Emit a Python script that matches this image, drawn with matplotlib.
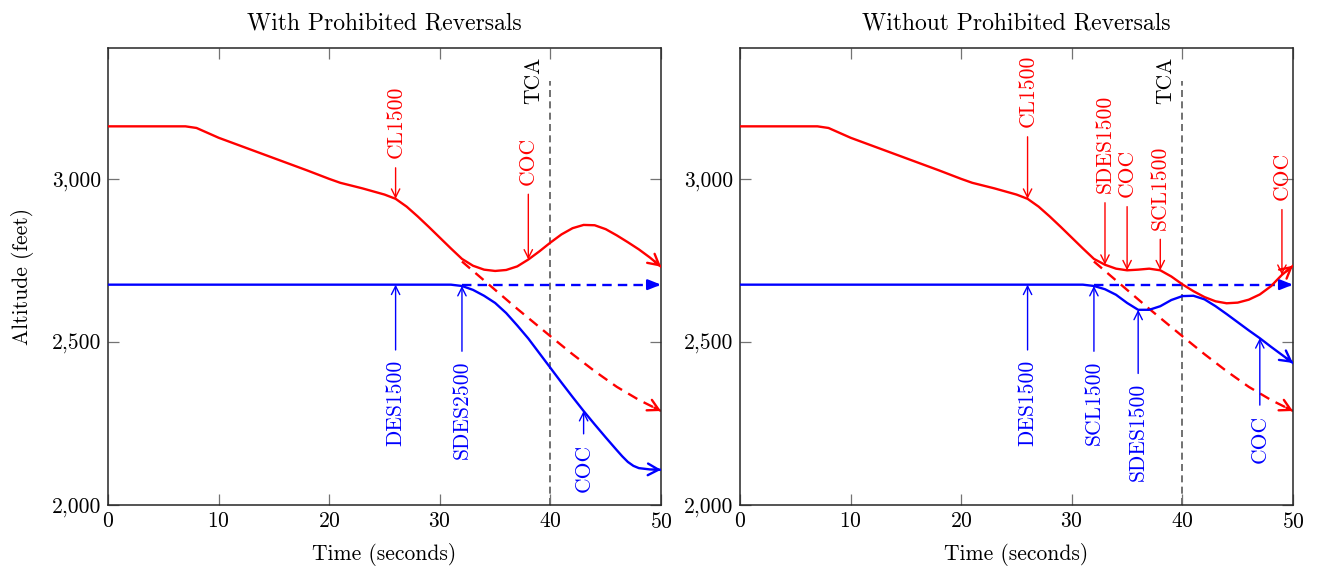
import numpy as np
import matplotlib
matplotlib.use("Agg")
import matplotlib.pyplot as plt
from matplotlib.ticker import FuncFormatter

plt.rcParams['font.family'] = ['cmr10', 'DejaVu Serif']
plt.rcParams['font.size'] = 15.5
plt.rcParams['axes.formatter.use_mathtext'] = True

# own aircraft (red), common part up to the first advisory branch
t_own_common = [0, 7, 8, 9, 10, 12, 14, 16, 18, 20, 21, 23, 25, 26, 27, 28, 29, 30, 31, 32]
a_own_common = [3160, 3160, 3155, 3140, 3125, 3100, 3075, 3050, 3025, 2999, 2987, 2970,
                2951, 2938, 2914, 2884, 2852, 2819, 2786, 2754]

# left panel: with prohibited reversals
t_own_left = [33, 34, 35, 36, 37, 38, 39, 40, 41, 42, 43, 44, 45, 46, 47, 48, 49, 50]
a_own_left = [2733, 2721, 2717, 2720, 2731, 2752, 2777, 2804, 2829, 2848, 2858, 2857,
              2845, 2826, 2805, 2783, 2758, 2730]

t_int_left = [0, 31, 32, 33, 34, 35, 36, 37, 38, 39, 40, 41, 42, 43, 44, 45, 46, 46.5,
              47, 47.5, 48, 49, 50]
a_int_left = [2675, 2675, 2671, 2659, 2641, 2619, 2588, 2550, 2510, 2465, 2420, 2375,
              2331, 2288, 2247, 2207, 2168, 2149, 2132, 2120, 2113, 2109, 2108]

# right panel: without prohibited reversals
t_own_right = [33, 34, 35, 36, 37, 38, 39, 40, 41, 42, 43, 44, 45, 46, 47, 48, 49, 50]
a_own_right = [2736, 2724, 2719, 2721, 2724, 2719, 2700, 2676, 2655, 2637, 2624, 2618,
               2620, 2629, 2645, 2670, 2705, 2733]

t_int_right = [0, 31, 32, 33, 34, 35, 36, 37, 38, 39, 40, 41, 42, 43, 44, 45, 46, 47,
               48, 49, 50]
a_int_right = [2675, 2675, 2671, 2661, 2644, 2619, 2598, 2598, 2609, 2628, 2640, 2641,
               2630, 2609, 2585, 2560, 2535, 2511, 2485, 2460, 2435]

# original (unresolved) trajectories, dashed
t_own_orig = [32, 33, 34, 35, 36, 37, 38, 40, 42, 44, 46, 48, 50]
a_own_orig = [2746, 2717, 2688, 2659, 2630, 2601, 2573, 2517, 2462, 2410, 2362, 2322, 2288]
t_int_orig = [32, 50]
a_int_orig = [2675, 2675]

tca_time = 40
tca_top = 3300

# advisories: label, time, offset of arrow tail (ft)
left_own_adv = [("CL1500", 26, 95), ("COC", 38, 200)]
left_int_adv = [("DES1500", 26, 200), ("SDES2500", 32, 200), ("COC", 43, 70)]
right_own_adv = [("CL1500", 26, 190), ("SDES1500", 33, 190), ("COC", 35, 195),
                 ("SCL1500", 38, 95), ("COC", 49, 200)]
right_int_adv = [("DES1500", 26, 200), ("SCL1500", 32, 200), ("SDES1500", 36, 195),
                 ("COC", 47, 205)]

RED = (1, 0, 0)
BLUE = (0, 0, 1)


def end_arrow(ax, t, a, color, filled=False):
    t1 = t[-1]
    t0 = t1 - 0.6
    a0 = np.interp(t0, t, a)
    if filled:
        style = '-|>,head_length=0.55,head_width=0.22'
    else:
        style = '->,head_length=0.55,head_width=0.3'
    ax.annotate('', xy=(t1, a[-1]), xytext=(t0, a0),
                arrowprops=dict(arrowstyle=style, color=color, lw=1.7,
                                shrinkA=0, shrinkB=0, mutation_scale=14),
                annotation_clip=False, zorder=4)


def advisories(ax, adv, t, a, color, above):
    for label, tt, off in adv:
        tip = np.interp(tt, t, a)
        tail = tip + off if above else tip - off
        ax.annotate('', xy=(tt, tip), xytext=(tt, tail),
                    arrowprops=dict(arrowstyle='->,head_length=0.6,head_width=0.3',
                                    color=color, lw=1.0, shrinkA=0, shrinkB=0,
                                    mutation_scale=10), zorder=5)
        if above:
            ax.annotate(label, xy=(tt, tail), xytext=(0, 7), textcoords='offset points',
                        rotation=90, ha='center', va='bottom', color=color)
        else:
            ax.annotate(label, xy=(tt, tail), xytext=(0, -7), textcoords='offset points',
                        rotation=90, ha='center', va='top', color=color)


def panel(ax, title, t_own, a_own, t_int, a_int, own_adv, int_adv):
    own_t = t_own_common + t_own
    own_a = a_own_common + a_own
    ax.plot(t_own_orig, a_own_orig, color=RED, lw=1.7, dashes=(4.5, 3.0), zorder=2)
    ax.plot(t_int_orig, a_int_orig, color=BLUE, lw=1.7, dashes=(4.0, 2.6), zorder=2)
    ax.plot(own_t, own_a, color=RED, lw=1.7, zorder=3)
    ax.plot(t_int, a_int, color=BLUE, lw=1.7, zorder=3)
    end_arrow(ax, t_own_orig, a_own_orig, RED)
    end_arrow(ax, t_int_orig, a_int_orig, BLUE, filled=True)
    end_arrow(ax, own_t, own_a, RED)
    end_arrow(ax, t_int, a_int, BLUE)

    ax.plot([tca_time, tca_time], [2000, tca_top], color='0.35', lw=1.2,
            dashes=(4.2, 2.6), zorder=1)
    ax.annotate('TCA', xy=(tca_time, tca_top), xytext=(-5, 0), textcoords='offset points',
                rotation=90, ha='right', va='center', color='black')

    advisories(ax, own_adv, own_t, own_a, RED, True)
    advisories(ax, int_adv, t_int, a_int, BLUE, False)

    ax.set_xlim(0, 50)
    ax.set_ylim(2000, 3400)
    ax.set_xticks([0, 10, 20, 30, 40, 50])
    ax.set_yticks([2000, 2500, 3000])
    ax.yaxis.set_major_formatter(FuncFormatter(lambda v, p: f"{v:,.0f}"))
    ax.tick_params(direction='in', top=True, right=True, length=8, width=0.9,
                   color='0.45', pad=5)
    for s in ax.spines.values():
        s.set_linewidth(1.1)
        s.set_color('0.15')
    ax.set_title(title, pad=13, fontsize=17)
    ax.set_xlabel('Time (seconds)', labelpad=8)


fig = plt.figure(figsize=(13.21, 5.70), dpi=100)
ax1 = fig.add_axes([0.0818, 0.114, 0.4186, 0.8018])
ax2 = fig.add_axes([0.5602, 0.114, 0.4186, 0.8018])

panel(ax1, 'With Prohibited Reversals', t_own_left, a_own_left, t_int_left, a_int_left,
      left_own_adv, left_int_adv)
panel(ax2, 'Without Prohibited Reversals', t_own_right, a_own_right, t_int_right, a_int_right,
      right_own_adv, right_int_adv)
ax1.set_ylabel('Altitude (feet)', labelpad=13)

fig.savefig('out.png', dpi=100)
